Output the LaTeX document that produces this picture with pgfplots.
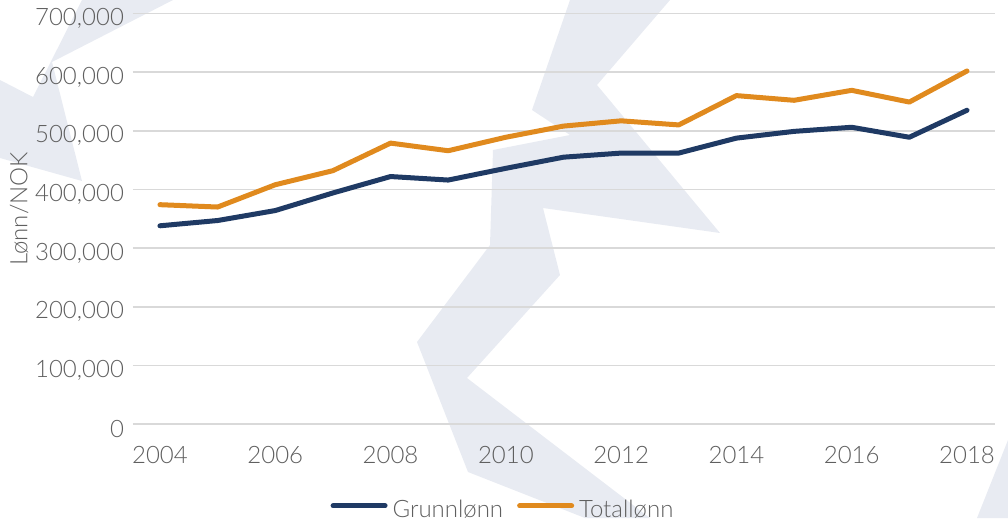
\documentclass[border=0pt]{standalone}
\usepackage{fontspec}
\setmainfont{Lato Light}
\usepackage{pgfplots}
\pgfplotsset{compat=1.18}
\definecolor{navy}{RGB}{31,58,100}
\definecolor{orng}{RGB}{224,138,30}
\definecolor{wm}{RGB}{232,235,242}
\definecolor{txt}{RGB}{95,95,95}
\definecolor{grd}{RGB}{217,217,217}
\begin{document}
\begin{tikzpicture}
\begin{scope}[x=0.5pt,y=-0.5pt]
\useasboundingbox (0,0) rectangle (1008,518);
\fill[wm] (82,0) -- (173,0) -- (52,62) -- (82,181) -- (0,158) -- (0,80) -- (33,97) -- cycle;
\fill[wm] (570,0) -- (670,0) -- (597,85) -- (720,233) -- (543,208) -- (560,275) -- (467,378) -- (650,518) -- (585,518) -- (468,472) -- (417,342) -- (490,245) -- (493,150) -- (570,135) -- (532,110) -- cycle;
\fill[wm] (1008,440) -- (1008,518) -- (977,518) -- cycle;
\end{scope}
\begin{axis}[
  at={(66.5pt,-212pt)}, anchor=south west,
  scale only axis, width=431pt, height=205.25pt,
  xmin=2003.532, xmax=2018.486, ymin=0, ymax=700000,
  xtick={2004,2006,...,2018},
  ytick={0,100000,...,700000},
  axis line style={draw=none},
  tick style={draw=none},
  ymajorgrids, grid style={grd, line width=0.8pt},
  font=\fontsize{12}{14}\selectfont,
  tick label style={txt},
  /pgf/number format/assume math mode=true,
  xticklabel style={/pgf/number format/1000 sep={}, yshift=-7.5pt},
  yticklabel style={/pgf/number format/fixed, /pgf/number format/1000 sep={,}, xshift=-1pt, yshift=-2.5pt},
  scaled y ticks=false,
  ylabel={Lønn/NOK},
  y label style={at={(axis description cs:-0.132,0.524)}, anchor=center, txt},
  legend columns=2,
  legend style={at={(axis description cs:0.431,-0.209)}, anchor=center, draw=none, fill=none, text=txt, column sep=0pt, inner sep=0pt,
    nodes={inner xsep=2.5pt, inner ysep=1pt},
    /tikz/every even column/.append style={column sep=4.5pt}},
  legend image code/.code={\draw[line width=2.5pt, line cap=round] (0pt,2pt) -- (26pt,2pt);},
]
\addplot[navy, line width=2.5pt, line cap=round, line join=round] coordinates {
(2004,338000) (2005,347000) (2006,364000) (2007,394000) (2008,422000) (2009,416000) (2010,436000) (2011,455000) (2012,462000) (2013,462000) (2014,487500) (2015,499000) (2016,506000) (2017,489000) (2018,535000)};
\addlegendentry{Grunnlønn}
\addplot[orng, line width=2.5pt, line cap=round, line join=round] coordinates {
(2004,374000) (2005,370000) (2006,408000) (2007,432000) (2008,479000) (2009,466000) (2010,489000) (2011,508000) (2012,517000) (2013,510000) (2014,560000) (2015,552000) (2016,569000) (2017,549000) (2018,602000)};
\addlegendentry{Totallønn}
\end{axis}
\end{tikzpicture}
\end{document}
